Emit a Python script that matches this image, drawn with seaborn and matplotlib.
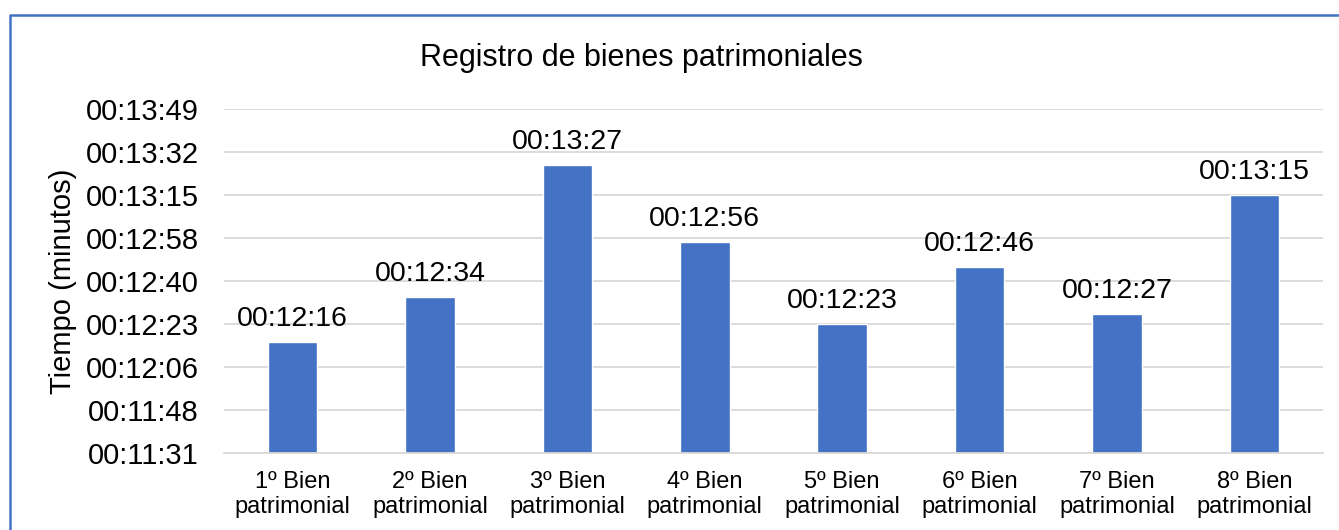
import numpy as np
import pandas as pd
import matplotlib
matplotlib.use("Agg")
import matplotlib.pyplot as plt
from matplotlib.ticker import FuncFormatter, FixedLocator
from matplotlib.lines import Line2D
import seaborn as sns

# donnees
categorias = ["1º Bien\npatrimonial", "2º Bien\npatrimonial", "3º Bien\npatrimonial",
              "4º Bien\npatrimonial", "5º Bien\npatrimonial", "6º Bien\npatrimonial",
              "7º Bien\npatrimonial", "8º Bien\npatrimonial"]
tiempos = ["00:12:16", "00:12:34", "00:13:27", "00:12:56",
           "00:12:23", "00:12:46", "00:12:27", "00:13:15"]

# echelle de l'axe (Excel : min 0,008 jour, pas 0,0002 jour)
y_min = 0.008 * 86400
y_pas = 0.0002 * 86400
n_ticks = 9

df = pd.DataFrame({"categoria": categorias,
                   "segundos": pd.to_timedelta(tiempos).total_seconds()})

sns.set_theme(style="white")
plt.rcParams["font.family"] = ["Liberation Sans", "DejaVu Sans"]

fig = plt.figure(figsize=(13.39, 5.30), dpi=100)
ax = fig.add_axes([224 / 1339, 77 / 530, 1099 / 1339, 344 / 530])

sns.barplot(data=df, x="categoria", y="segundos", color="#4472C4",
            width=0.36, saturation=1, ax=ax, zorder=3)


def hms(v, pos=None):
    s = int(round(v))
    return "%02d:%02d:%02d" % (s // 3600, (s % 3600) // 60, s % 60)


ticks = [y_min + i * y_pas for i in range(n_ticks)]
ax.set_ylim(ticks[0], ticks[-1])
ax.yaxis.set_major_locator(FixedLocator(ticks))
ax.yaxis.set_major_formatter(FuncFormatter(hms))
ax.set_xlim(-0.5, len(categorias) - 0.5)

ax.grid(axis="y", color="#D9D9D9", linewidth=1.3, zorder=0)
ax.grid(axis="x", visible=False)
for side in ["left", "right", "top"]:
    ax.spines[side].set_visible(False)
ax.spines["bottom"].set_color("#D9D9D9")
ax.spines["bottom"].set_linewidth(1.3)
ax.spines["bottom"].set_zorder(4)

ax.tick_params(axis="y", length=0, pad=18, labelsize=21, labelcolor="black")
ax.tick_params(axis="x", length=0, pad=13, labelsize=17, labelcolor="black")
for lab in ax.get_xticklabels():
    lab.set_linespacing(1.2)

ax.set_xlabel("")
ax.set_ylabel("Tiempo (minutos)", fontsize=21, color="black")
ax.yaxis.set_label_coords(-0.134, 0.5)

# etiquettes de donnees
for i, v in enumerate(df["segundos"]):
    ax.annotate(hms(v), (i, v), xytext=(0, 7), textcoords="offset points",
                ha="center", va="bottom", fontsize=20.5, color="black")

fig.text(641 / 1339, (530 - 66) / 530, "Registro de bienes patrimoniales",
         ha="center", va="baseline", fontsize=22, color="black")

# cadre bleu du graphique
bx = 9.5 / 1339
by = (530 - 14.5) / 530
fig.add_artist(Line2D([bx, bx, 1.0], [0.0, by, by], transform=fig.transFigure,
                      color="#4472C4", linewidth=1.8))

fig.savefig("out.png", dpi=100)
